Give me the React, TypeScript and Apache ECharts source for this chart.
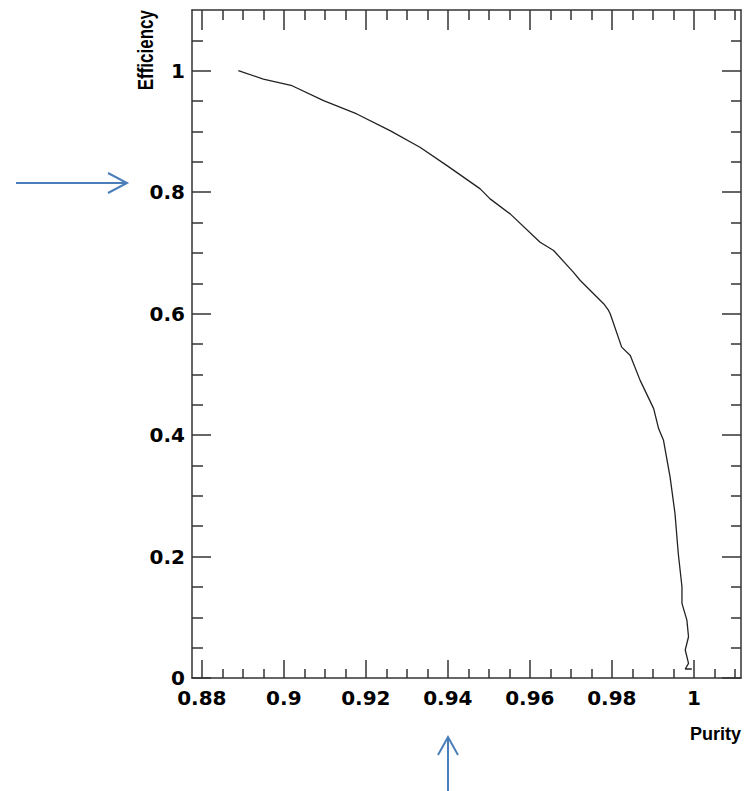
import React, { useEffect, useRef } from "react";
import * as echarts from "echarts";

// Curve: Efficiency vs Purity
const purity = [
  0.8889, 0.8950, 0.9020, 0.9097, 0.9178, 0.9259, 0.9332, 0.9398, 0.9479, 0.9503,
  0.9552, 0.9625, 0.9658, 0.9706, 0.9723, 0.9780, 0.9792, 0.9796, 0.9824, 0.9845,
  0.9869, 0.9902, 0.9914, 0.9926, 0.9942, 0.9954, 0.9962, 0.9971, 0.9971, 0.9983,
  0.9987, 0.9979, 0.9987, 0.9979, 0.9995,
];
const efficiency = [
  1.0, 0.9863, 0.9753, 0.9507, 0.9288, 0.9013, 0.8739, 0.8437, 0.8054, 0.7890,
  0.7643, 0.7176, 0.7039, 0.6683, 0.6546, 0.6163, 0.6053, 0.5998, 0.5449, 0.5312,
  0.4901, 0.4436, 0.4107, 0.3914, 0.3311, 0.2709, 0.2051, 0.1502, 0.1229, 0.0954,
  0.0679, 0.0461, 0.0242, 0.0148, 0.0148,
];

const xMajorTicks = [0.88, 0.9, 0.92, 0.94, 0.96, 0.98, 1.0];
const xMinorTicks = [
  0.885, 0.89, 0.895, 0.905, 0.91, 0.915, 0.925, 0.93, 0.935, 0.945, 0.95, 0.955,
  0.965, 0.97, 0.975, 0.985, 0.99, 0.995, 1.005, 1.01,
];
const yMajorTicks = [0, 0.2, 0.4, 0.6, 0.8, 1.0];
const yMinorTicks = [
  0.05, 0.1, 0.15, 0.25, 0.3, 0.35, 0.45, 0.5, 0.55, 0.65, 0.7, 0.75, 0.85, 0.9,
  0.95, 1.05,
];

const X_MIN = 0.8776;
const X_MAX = 1.0115;
const Y_MIN = 0;
const Y_MAX = 1.1;

const FRAME = "#333333";
const ARROW = "#4a7ebb";

export default function App() {
  const ref = useRef<HTMLDivElement>(null);

  useEffect(() => {
    if (!ref.current) return;
    const chart = echarts.init(ref.current, undefined, { renderer: "svg" });

    const labelFont = {
      fontFamily: "DejaVu Sans",
      fontWeight: "bold" as const,
      fontSize: 20,
      color: "#000",
    };

    const mkX = (pos: "bottom" | "top", major: boolean, len: number, showLine: boolean, showLabels: boolean) => ({
      type: "value",
      position: pos,
      min: X_MIN,
      max: X_MAX,
      axisLine: { show: showLine, onZero: false, lineStyle: { color: FRAME, width: 1.5 } },
      axisTick: {
        show: true,
        inside: true,
        length: len,
        customValues: major ? xMajorTicks : xMinorTicks,
        lineStyle: { color: FRAME, width: 1.5 },
      },
      axisLabel: showLabels
        ? { show: true, customValues: xMajorTicks, margin: 10, ...labelFont }
        : { show: false },
      splitLine: { show: false },
    });

    const mkY = (pos: "left" | "right", major: boolean, len: number, showLine: boolean, showLabels: boolean) => ({
      type: "value",
      position: pos,
      min: Y_MIN,
      max: Y_MAX,
      axisLine: { show: showLine, onZero: false, lineStyle: { color: FRAME, width: 1.5 } },
      axisTick: {
        show: true,
        inside: true,
        length: len,
        customValues: major ? yMajorTicks : yMinorTicks,
        lineStyle: { color: FRAME, width: 1.5 },
      },
      axisLabel: showLabels
        ? { show: true, customValues: yMajorTicks, margin: 7, ...labelFont }
        : { show: false },
      splitLine: { show: false },
    });

    const data = purity.map((p, i) => [p, efficiency[i]]);

    chart.setOption({
      animation: false,
      backgroundColor: "#ffffff",
      grid: { left: 192, right: 6, top: 10, bottom: 113, containLabel: false },
      xAxis: [
        mkX("bottom", true, 18, true, true),
        mkX("bottom", false, 9, false, false),
        mkX("top", true, 20, true, false),
        mkX("top", false, 10, false, false),
      ],
      yAxis: [
        mkY("left", true, 19, true, true),
        mkY("left", false, 11, false, false),
        mkY("right", true, 19, true, false),
        mkY("right", false, 10, false, false),
      ],
      series: [
        {
          type: "line",
          xAxisIndex: 0,
          yAxisIndex: 0,
          data,
          showSymbol: false,
          symbol: "none",
          smooth: false,
          lineStyle: { color: "#222222", width: 1.3 },
        },
      ],
      graphic: [
        {
          type: "text",
          x: 145,
          y: 10,
          rotation: Math.PI / 2,
          scaleY: 1.35,
          style: {
            text: "Efficiency",
            fontFamily: "Liberation Sans",
            fontWeight: "bold",
            fontSize: 17,
            fill: "#000",
            align: "right",
            verticalAlign: "middle",
          },
        },
        {
          type: "text",
          x: 741,
          y: 734,
          style: {
            text: "Purity",
            fontFamily: "Liberation Sans",
            fontWeight: "bold",
            fontSize: 18,
            fill: "#000",
            align: "right",
            verticalAlign: "middle",
          },
        },
        // horizontal arrow
        {
          type: "line",
          shape: { x1: 16, y1: 183, x2: 127, y2: 183 },
          style: { stroke: ARROW, lineWidth: 2 },
        },
        {
          type: "polyline",
          shape: { points: [[108, 173], [127, 183], [108, 193]] },
          style: { stroke: ARROW, lineWidth: 2, fill: null },
        },
        // vertical arrow
        {
          type: "line",
          shape: { x1: 448, y1: 791, x2: 448, y2: 737 },
          style: { stroke: ARROW, lineWidth: 2 },
        },
        {
          type: "polyline",
          shape: { points: [[438, 755], [448, 737], [458, 755]] },
          style: { stroke: ARROW, lineWidth: 2, fill: null },
        },
      ],
    });

    return () => chart.dispose();
  }, []);

  return (
    <div
      ref={ref}
      style={{ position: "absolute", left: 0, top: 0, width: 747, height: 791 }}
    />
  );
}
